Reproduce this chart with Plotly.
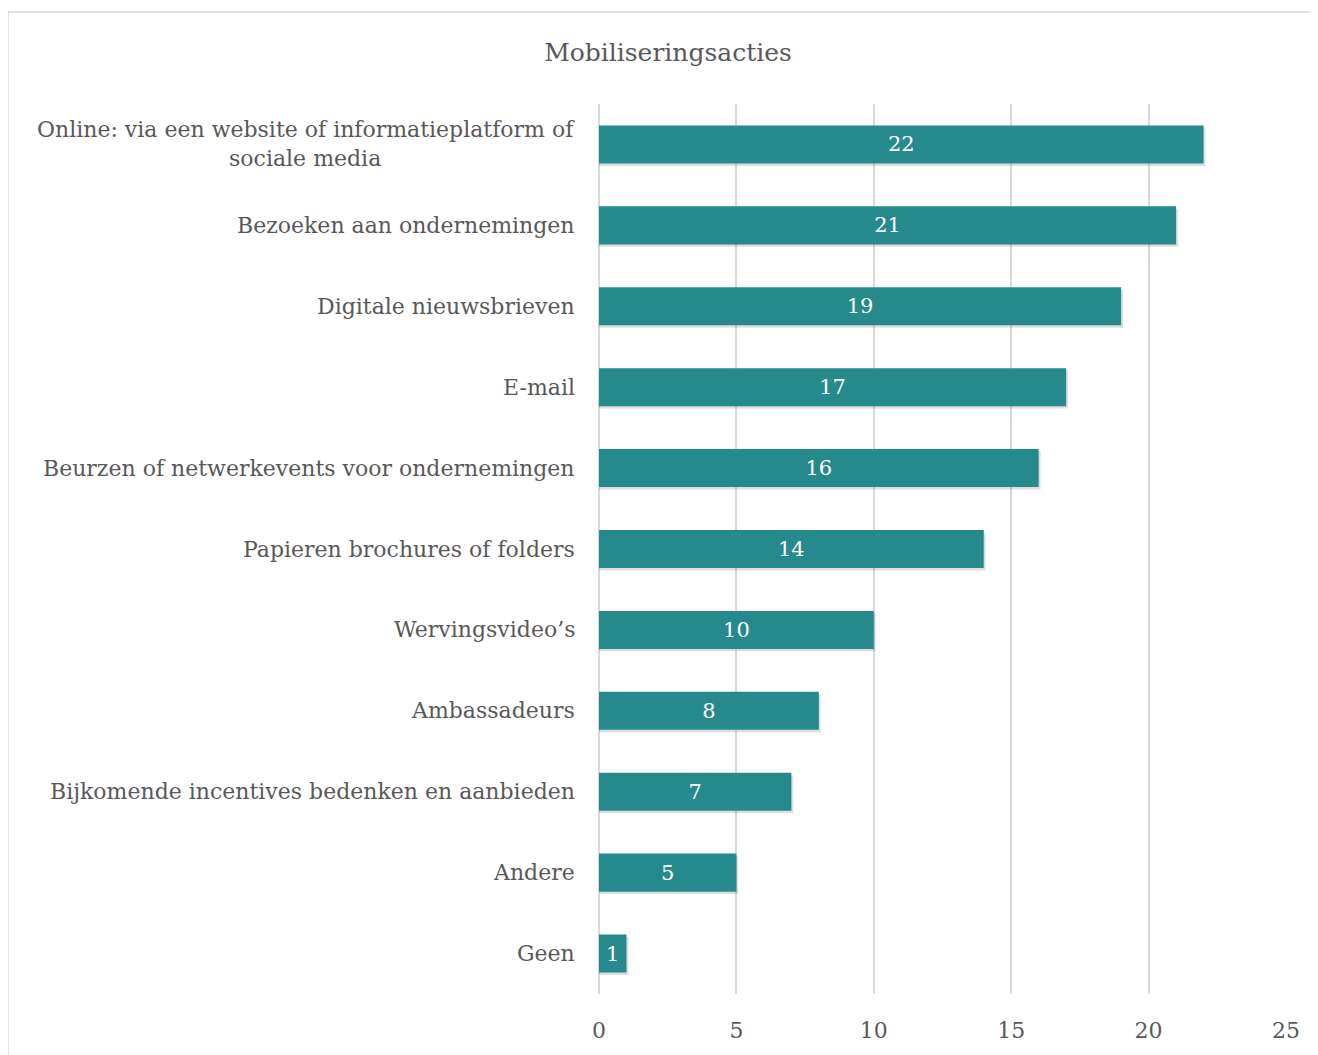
import plotly.graph_objects as go

categories = [
    "Online: via een website of informatieplatform of<br>sociale media",
    "Bezoeken aan ondernemingen",
    "Digitale nieuwsbrieven",
    "E-mail",
    "Beurzen of netwerkevents voor ondernemingen",
    "Papieren brochures of folders",
    "Wervingsvideo’s",
    "Ambassadeurs",
    "Bijkomende incentives bedenken en aanbieden",
    "Andere",
    "Geen",
]
values = [22, 21, 19, 17, 16, 14, 10, 8, 7, 5, 1]
x_ticks = [0, 5, 10, 15, 20, 25]

FONT = "DejaVu Serif"
TXT = "#595959"
BAR = "#26898B"

OFF = 8  # page body margin
W, H = 1310, 1047
L, R, T, B = 599 - OFF, 32, 104 - OFF, 61
pw, ph = W - L - R, H - T - B

def px_to_paper_x(px):
    return (px - OFF - L) / pw

def px_to_paper_y(py):
    return 1 - (py - OFF - T) / ph

fig = go.Figure()

# subtle drop shadow
fig.add_trace(go.Bar(
    y=categories, x=[v + 0.07 for v in values], orientation="h",
    marker=dict(color="rgba(0,0,0,0.13)", line=dict(width=0)),
    width=0.47, offset=-0.235 - 0.03,
    hoverinfo="skip", showlegend=False,
))
fig.add_trace(go.Bar(
    y=categories, x=values, orientation="h",
    marker=dict(color=BAR, line=dict(width=0)),
    width=0.47, offset=-0.235,
    text=[str(v) for v in values], textposition="inside",
    insidetextanchor="middle",
    textfont=dict(color="white", size=21, family=FONT),
    showlegend=False,
))

annotations = []
for c in categories:
    annotations.append(dict(
        x=px_to_paper_x(577), xref="paper", y=c, yref="y",
        text=c, showarrow=False, xanchor="right", yanchor="middle",
        align="center", font=dict(size=22, color=TXT, family=FONT),
    ))

fig.update_layout(
    width=W, height=H,
    margin=dict(l=L, r=R, t=T, b=B),
    paper_bgcolor="white", plot_bgcolor="white",
    barmode="overlay",
    title=dict(text="Mobiliseringsacties", x=(668 - OFF) / W, xanchor="center",
               y=1 - (52 - OFF) / H, yanchor="middle",
               font=dict(size=25, color=TXT, family=FONT)),
    xaxis=dict(range=[0, 25], tickvals=x_ticks, showgrid=True,
               gridcolor="#d9d9d9", gridwidth=1.5, zeroline=True,
               zerolinecolor="#d9d9d9", zerolinewidth=1.5,
               tickfont=dict(size=22, color=TXT, family=FONT),
               ticks="", ticklabelstandoff=21, showline=False),
    yaxis=dict(categoryorder="array", categoryarray=categories[::-1],
               showticklabels=False, showgrid=False, ticks="",
               range=[-0.5, 10.5]),
    annotations=annotations,
    shapes=[dict(type="rect", xref="paper", yref="paper",
                 x0=px_to_paper_x(8), x1=px_to_paper_x(1325),
                 y0=px_to_paper_y(1062), y1=px_to_paper_y(12),
                 line=dict(color="#d9d9d9", width=1.5), layer="below")],
)

fig.write_html("out.html")
